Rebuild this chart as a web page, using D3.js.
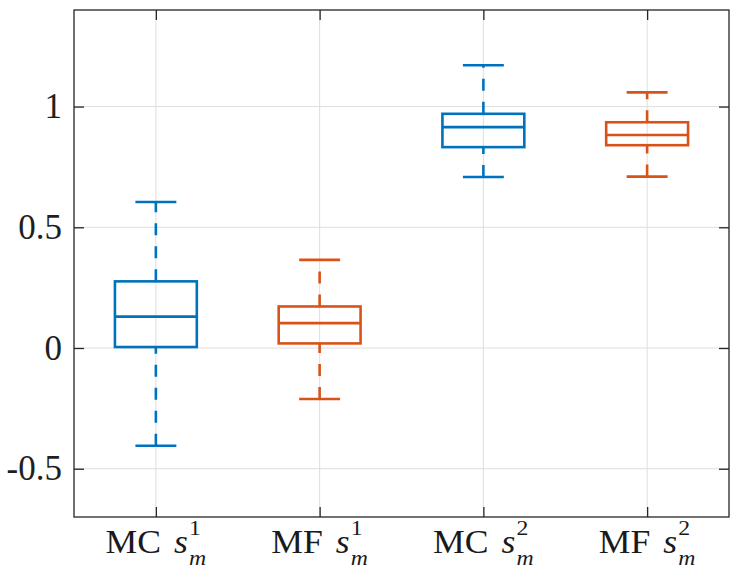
<!DOCTYPE html>
<html>
<head>
<meta charset="utf-8">
<script src="https://cdn.jsdelivr.net/npm/d3@7"></script>
<style>
  html, body { margin: 0; padding: 0; background: #fff; }
  svg { display: block; }
  .grid line { stroke: #dedede; stroke-width: 1; }
  .frame { fill: none; stroke: #262626; stroke-width: 1.3; }
  .axis path { display: none; }
  .axis line { stroke: #262626; stroke-width: 1.3; }
  .axis text { font-family: "Liberation Serif", "DejaVu Serif", serif; font-size: 35px; fill: #1f1f1f; }
  .xlab text { font-family: "Liberation Serif", "DejaVu Serif", serif; fill: #1a1a1a; }
</style>
</head>
<body>
<div id="chart"></div>
<script>
// box statistics
var groups = ["MC", "MF", "MC", "MF"];
var superscripts = ["1", "1", "2", "2"];
var lowerWhisker = [-0.405, -0.211, 0.708, 0.710];
var q1 = [0.004, 0.019, 0.832, 0.840];
var median = [0.130, 0.103, 0.915, 0.882];
var q3 = [0.276, 0.172, 0.970, 0.935];
var upperWhisker = [0.605, 0.365, 1.171, 1.059];
var colors = ["#0072BD", "#D95319", "#0072BD", "#D95319"];
var yTicks = [-0.5, 0, 0.5, 1];

var W = 746, H = 578;
var margin = {top: 10, right: 17, bottom: 61, left: 74};
var width = W - margin.left - margin.right,
    height = H - margin.top - margin.bottom;

var svg = d3.select("#chart").append("svg")
    .attr("width", W)
    .attr("height", H)
  .append("g")
    .attr("transform", `translate(${margin.left},${margin.top})`);

var x = d3.scaleLinear().domain([0.5, groups.length + 0.5]).range([0, width]),
    y = d3.scaleLinear().domain([-0.7, 1.4]).range([height, 0]);

var idx = d3.range(groups.length);
var boxHalf = (x(1.25) - x(1)),
    capHalf = (x(1.125) - x(1));

// grid
var grid = svg.append("g").attr("class", "grid");
grid.selectAll(".gy").data(yTicks).enter().append("line")
    .attr("x1", 0).attr("x2", width)
    .attr("y1", d => y(d)).attr("y2", d => y(d));
grid.selectAll(".gx").data(idx).enter().append("line")
    .attr("x1", d => x(d + 1)).attr("x2", d => x(d + 1))
    .attr("y1", 0).attr("y2", height);

// axes with inward ticks on all four sides
svg.append("g").attr("class", "axis")
    .call(d3.axisLeft(y).tickValues(yTicks).tickSize(-10).tickPadding(12).tickFormat(d => String(d)));
svg.append("g").attr("class", "axis")
    .attr("transform", `translate(${width},0)`)
    .call(d3.axisRight(y).tickValues(yTicks).tickSize(-10).tickFormat(""));
svg.append("g").attr("class", "axis")
    .attr("transform", `translate(0,${height})`)
    .call(d3.axisBottom(x).tickValues(idx.map(d => d + 1)).tickSize(-10).tickFormat(""));
svg.append("g").attr("class", "axis")
    .call(d3.axisTop(x).tickValues(idx.map(d => d + 1)).tickSize(-10).tickFormat(""));

svg.append("rect").attr("class", "frame")
    .attr("width", width).attr("height", height);

// boxes
var box = svg.selectAll(".box").data(idx).enter().append("g")
    .attr("class", "box")
    .attr("stroke", d => colors[d])
    .attr("stroke-width", 2.6)
    .attr("fill", "none");

// whiskers drawn bottom -> top, dashed
box.append("line")
    .attr("x1", d => x(d + 1)).attr("x2", d => x(d + 1))
    .attr("y1", d => y(q3[d])).attr("y2", d => y(upperWhisker[d]))
    .attr("stroke-dasharray", "12,11");
box.append("line")
    .attr("x1", d => x(d + 1)).attr("x2", d => x(d + 1))
    .attr("y1", d => y(lowerWhisker[d])).attr("y2", d => y(q1[d]))
    .attr("stroke-dasharray", "12,11");

// caps
box.append("line")
    .attr("x1", d => x(d + 1) - capHalf).attr("x2", d => x(d + 1) + capHalf)
    .attr("y1", d => y(upperWhisker[d])).attr("y2", d => y(upperWhisker[d]));
box.append("line")
    .attr("x1", d => x(d + 1) - capHalf).attr("x2", d => x(d + 1) + capHalf)
    .attr("y1", d => y(lowerWhisker[d])).attr("y2", d => y(lowerWhisker[d]));

box.append("rect")
    .attr("x", d => x(d + 1) - boxHalf)
    .attr("y", d => y(q3[d]))
    .attr("width", 2 * boxHalf)
    .attr("height", d => y(q1[d]) - y(q3[d]));

box.append("line")
    .attr("x1", d => x(d + 1) - boxHalf).attr("x2", d => x(d + 1) + boxHalf)
    .attr("y1", d => y(median[d])).attr("y2", d => y(median[d]));

// x labels: "MC s^1_m" style
var base = height + 36;
var lab = svg.selectAll(".xlab").data(idx).enter().append("g")
    .attr("class", "xlab");

lab.each(function(d) {
  var g = d3.select(this);
  var t = g.append("text").attr("y", base).attr("font-size", 33);
  t.append("tspan").text(groups[d]);
  t.append("tspan").attr("dx", 12).attr("font-style", "italic").text("s");
  var w = t.node().getComputedTextLength() + 12;
  var sup = g.append("text").attr("x", w + 1).attr("y", base - 18)
      .attr("font-size", 22).text(superscripts[d]);
  var sub = g.append("text").attr("x", w + 1).attr("y", base + 12)
      .attr("font-size", 22).attr("font-style", "italic").text("m");
  var total = w + 1 + Math.max(sup.node().getComputedTextLength(), sub.node().getComputedTextLength());
  var sx = 1.08;
  g.attr("transform", `translate(${x(d + 1) - total * sx / 2},0) scale(${sx},1)`);
});
</script>
</body>
</html>
